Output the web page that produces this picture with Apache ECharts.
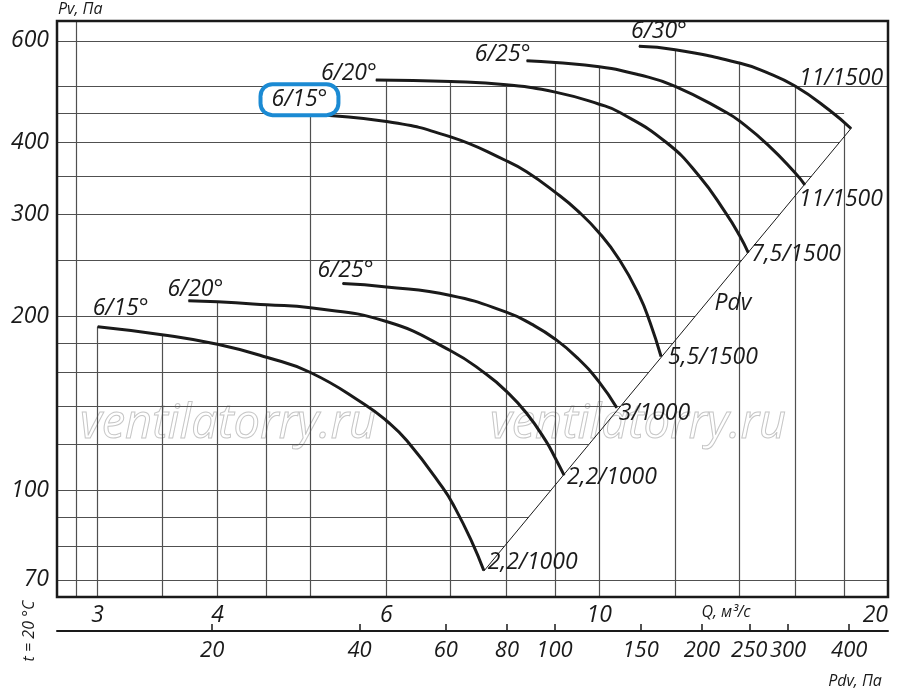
<!DOCTYPE html>
<html>
<head>
<meta charset="utf-8">
<script src="https://cdn.jsdelivr.net/npm/echarts@6/dist/echarts.min.js"></script>
<style>
    html, body { margin: 0; padding: 0; background: #fff; }
    #main { width: 900px; height: 694px; }
</style>
</head>
<body>
<div id="main"></div>
<script>
    // оси
    var qTicks = [3, 4, 6, 10, 20];
    var pvTicks = [70, 100, 200, 300, 400, 600];
    var pdvTicks = [20, 40, 60, 80, 100, 150, 200, 250, 300, 400];
    var qGrid = [2.85, 3, 3.5, 4, 4.5, 5, 6, 7, 8, 9, 10, 12, 14, 16, 18];
    var pvGrid = [70, 80, 90, 100, 120, 140, 160, 180, 200, 250, 300, 350, 400, 450, 500, 600];

    // характеристики [Q, Pv], 1000 об/мин
    var low15 = [[3.0, 192], [3.5, 186], [4.0, 179], [4.5, 170], [5.0, 160], [5.69, 141], [6.0, 132], [6.3, 122], [6.87, 101], [7.08, 93], [7.36, 81.7], [7.58, 72.7]];
    var low20 = [[3.73, 213], [4.0, 212], [4.5, 209.5], [5.0, 207], [6.0, 196], [7.0, 174.5], [7.62, 159], [8.0, 148.5], [8.4, 136], [8.8, 121.7], [9.0, 113.7], [9.19, 106.3]];
    var low25 = [[5.4, 228], [6.0, 225], [7.0, 217.5], [8.0, 203.5], [8.5, 194], [9.0, 182.7], [9.5, 169.3], [10.0, 154], [10.43, 139]];
    // 1500 об/мин
    var up15 = [[5.0, 447], [6.0, 435], [7.0, 409], [8.0, 372], [8.4, 356], [9.0, 328], [9.49, 305], [10.0, 279], [10.5, 250.5], [11.0, 218], [11.3, 195], [11.6, 170.5]];
    var up20 = [[5.85, 513], [7.0, 510], [8.0, 503.5], [9.0, 489], [10.0, 466], [10.52, 450.5], [11.75, 400], [12.71, 350], [13.54, 302.5], [14.0, 276.5], [14.3, 258]];
    var up25 = [[8.4, 554], [9.0, 550], [10.0, 541], [11.0, 524], [12.0, 500.5], [13.6, 450], [14.0, 436], [15.0, 396], [16.0, 354.5], [16.38, 338]];
    var up30 = [[11.0, 587], [12.0, 579], [14.0, 549], [14.9, 530], [16.0, 501], [17.38, 455], [18.3, 423]];
    // линия Pdv
    var pdvLine = [[7.58, 72.5], [18.3, 423]];

    var Q_MIN = 2.721, Q_MAX = 20, PV_MIN = 65.4, PV_MAX = 649.2;
    var PDV_MIN = 9.64, PDV_MAX = 480;
    var INK = '#1a1a1a';
    var FONT = '"Open Sans", "Noto Sans", sans-serif';

    var curves = [
        { data: low15, start: '6/15°', startOff: [23, -18], end: '2,2/1000', endOff: [4, -8] },
        { data: low20, start: '6/20°', startOff: [7, -11], end: '2,2/1000', endOff: [3, 2] },
        { data: low25, start: '6/25°', startOff: [3, -13], end: '3/1000', endOff: [2, 6] },
        { data: up15, start: '6/15°', startOff: [-11, -15], end: '5,5/1500', endOff: [7, 1], boxed: true },
        { data: up20, start: '6/20°', startOff: [-27, -7], end: '7,5/1500', endOff: [3, 2] },
        { data: up25, start: '6/25°', startOff: [-24, -6], end: '11/1500', endOff: [-6, 15] },
        { data: up30, start: '6/30°', startOff: [20, -15], end: '11/1500', endOff: [-52, -50] }
    ];

    // интерполяция в логарифмах
    function logInterp(pts, x, ix, iy) {
        for (var i = 0; i < pts.length - 1; i++) {
            var a = pts[i], b = pts[i + 1];
            var lo = Math.min(a[ix], b[ix]), hi = Math.max(a[ix], b[ix]);
            if (x >= lo - 1e-9 && x <= hi + 1e-9) {
                var t = Math.log(x / a[ix]) / Math.log(b[ix] / a[ix]);
                return a[iy] * Math.pow(b[iy] / a[iy], t);
            }
        }
        return null;
    }

    // сетка: вертикали до верхней кривой, горизонтали до линии Pdv
    var gridLines = [];
    qGrid.forEach(function (q) {
        var top = null;
        curves.forEach(function (c) {
            var v = logInterp(c.data, q, 0, 1);
            if (v !== null && (top === null || v > top)) top = v;
        });
        gridLines.push({ coords: [[q, PV_MIN], [q, top === null ? PV_MAX : top]] });
    });
    pvGrid.forEach(function (p) {
        var end = Q_MAX;
        if (p >= pdvLine[0][1] && p <= pdvLine[1][1]) end = logInterp(pdvLine, p, 1, 0);
        else if (p > pdvLine[1][1] && p < 500) end = qGrid[qGrid.length - 1];
        gridLines.push({ coords: [[Q_MIN, p], [end, p]] });
    });

    var labelBase = { color: INK, fontFamily: FONT, fontStyle: 'italic', fontSize: 23 };

    var series = [{
        type: 'lines',
        coordinateSystem: 'cartesian2d',
        z: 1,
        silent: true,
        lineStyle: { color: '#505050', width: 1.2, opacity: 1 },
        data: gridLines
    }, {
        type: 'line',
        z: 2,
        data: pdvLine,
        symbol: 'none',
        silent: true,
        lineStyle: { color: INK, width: 1 }
    }];

    curves.forEach(function (c) {
        var last = c.data.length - 1;
        series.push({
            type: 'line',
            z: 3,
            smooth: 0.5,
            symbol: 'circle',
            symbolSize: 1,
            showSymbol: true,
            silent: true,
            itemStyle: { color: INK },
            lineStyle: { color: INK, width: 3 },
            label: { show: false },
            data: c.data.map(function (p, i) {
                var item = { value: p };
                if (i === 0) {
                    item.label = Object.assign({
                        show: true, position: 'inside', offset: c.startOff,
                        align: 'center', verticalAlign: 'middle', formatter: c.start
                    }, labelBase);
                    if (c.boxed) {
                        Object.assign(item.label, {
                            backgroundColor: '#fff', borderColor: '#1b8ad3', borderWidth: 4,
                            borderRadius: 10, padding: [2, 9]
                        });
                    }
                } else if (i === last) {
                    item.label = Object.assign({
                        show: true, position: 'inside', offset: c.endOff,
                        align: 'left', verticalAlign: 'middle', formatter: c.end
                    }, labelBase);
                }
                return item;
            })
        });
    });

    var tickText = { color: INK, fontFamily: FONT, fontStyle: 'italic', fontSize: 23 };
    function intLabel(v) { return String(Math.round(v)); }

    var myChart = echarts.init(document.getElementById('main'));
    var option = {
        animation: false,
        backgroundColor: '#fff',
        grid: {
            left: 57, top: 21, right: 12, bottom: 97,
            show: true, z: 10, borderColor: INK, borderWidth: 2.5,
            backgroundColor: 'transparent', containLabel: false, outerBoundsMode: 'none'
        },
        xAxis: [{
            type: 'log', min: Q_MIN, max: Q_MAX, position: 'bottom',
            axisLine: { show: false }, axisTick: { show: false }, splitLine: { show: false },
            axisLabel: Object.assign({ customValues: qTicks, margin: 7, formatter: intLabel, alignMaxLabel: 'right' }, tickText)
        }, {
            type: 'log', min: PDV_MIN, max: PDV_MAX, position: 'bottom', offset: 34,
            axisLine: { show: true, lineStyle: { color: INK, width: 2 } },
            axisTick: { show: true, inside: true, length: 7, customValues: pdvTicks, lineStyle: { color: INK, width: 1.5 } },
            splitLine: { show: false },
            axisLabel: Object.assign({ customValues: pdvTicks, margin: 9, formatter: intLabel }, tickText, { fontSize: 22 })
        }],
        yAxis: {
            type: 'log', min: PV_MIN, max: PV_MAX,
            axisLine: { show: false }, axisTick: { show: false }, splitLine: { show: false },
            axisLabel: Object.assign({ customValues: pvTicks, margin: 8, formatter: intLabel }, tickText)
        },
        graphic: [
            { type: 'text', z: 0, x: 80, y: 425, silent: true,
              style: { text: 'ventilatorry.ru', font: 'italic 47px ' + FONT, fill: 'rgba(0,0,0,0)', stroke: '#c6c6c6', lineWidth: 1, verticalAlign: 'middle' } },
            { type: 'text', z: 0, x: 490, y: 425, silent: true,
              style: { text: 'ventilatorry.ru', font: 'italic 47px ' + FONT, fill: 'rgba(0,0,0,0)', stroke: '#c6c6c6', lineWidth: 1, verticalAlign: 'middle' } },
            { type: 'text', z: 20, x: 58, y: 9, style: { text: 'Pv, Па', font: 'italic 16px ' + FONT, fill: INK, verticalAlign: 'middle' } },
            { type: 'text', z: 20, x: 726, y: 612, style: { text: 'Q, м³/с', font: 'italic 16px ' + FONT, fill: INK, align: 'center', verticalAlign: 'middle' } },
            { type: 'text', z: 20, x: 855, y: 681, style: { text: 'Pdv, Па', font: 'italic 16px ' + FONT, fill: INK, align: 'center', verticalAlign: 'middle' } },
            { type: 'text', z: 20, x: 29, y: 631, rotation: Math.PI / 2, style: { text: 't = 20 °C', font: 'italic 16px ' + FONT, fill: INK, align: 'center', verticalAlign: 'middle' } },
            { type: 'text', z: 20, x: 733, y: 303, style: { text: 'Pdv', font: 'italic 23px ' + FONT, fill: INK, align: 'center', verticalAlign: 'middle' } }
        ],
        series: series
    };

    myChart.setOption(option);
</script>
</body>
</html>
